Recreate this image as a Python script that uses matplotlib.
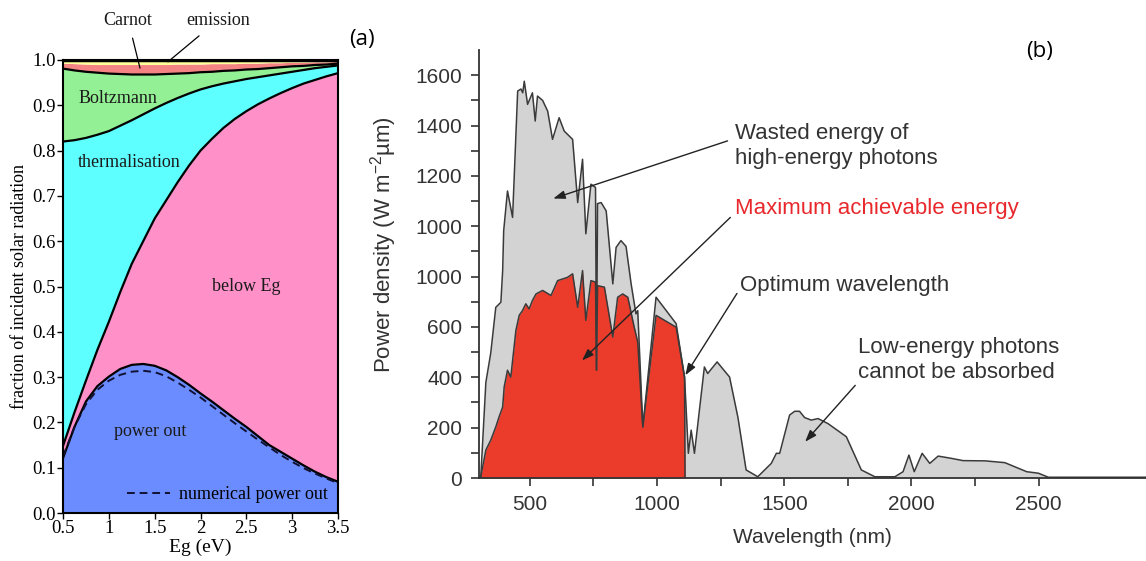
import numpy as np
import matplotlib
matplotlib.use("Agg")
import matplotlib.pyplot as plt

plt.rcParams['mathtext.fontset'] = 'custom'
plt.rcParams['mathtext.rm'] = 'Liberation Sans'
plt.rcParams['mathtext.it'] = 'Liberation Sans:italic'

# ---- (a) loss breakdown vs band gap ----
eg = [0.5, 0.625, 0.75, 0.875, 1.0, 1.125, 1.25, 1.375, 1.5, 1.625, 1.75, 1.875,
      2.0, 2.125, 2.25, 2.375, 2.5, 2.625, 2.75, 2.875, 3.0, 3.125, 3.25, 3.375, 3.5]
power_out = [0.121, 0.19, 0.246, 0.28, 0.301, 0.318, 0.327, 0.329, 0.325, 0.315, 0.30, 0.283,
             0.264, 0.246, 0.227, 0.208, 0.19, 0.17, 0.15, 0.135, 0.12, 0.105, 0.091, 0.079, 0.069]
numerical_out = [0.125, 0.19, 0.24, 0.272, 0.292, 0.305, 0.312, 0.314, 0.311, 0.302, 0.288, 0.272,
                 0.255, 0.236, 0.217, 0.198, 0.18, 0.162, 0.145, 0.128, 0.113, 0.099, 0.087, 0.076, 0.066]
below_top = [0.148, 0.222, 0.292, 0.36, 0.422, 0.488, 0.55, 0.60, 0.65, 0.69, 0.73, 0.767,
             0.80, 0.826, 0.85, 0.87, 0.887, 0.902, 0.915, 0.927, 0.938, 0.948, 0.956, 0.964, 0.971]
therm_top = [0.82, 0.823, 0.828, 0.835, 0.843, 0.855, 0.867, 0.88, 0.893, 0.905, 0.916, 0.926,
             0.935, 0.942, 0.948, 0.953, 0.958, 0.962, 0.966, 0.970, 0.974, 0.978, 0.982, 0.985, 0.988]
boltz_top = [0.981, 0.977, 0.974, 0.972, 0.970, 0.969, 0.968, 0.968, 0.968, 0.969, 0.970, 0.971,
             0.973, 0.974, 0.976, 0.977, 0.979, 0.980, 0.982, 0.984, 0.986, 0.987, 0.989, 0.990, 0.992]
carnot_top = [0.993, 0.992, 0.991, 0.990, 0.990, 0.990, 0.990, 0.990, 0.990, 0.990, 0.991, 0.991,
              0.991, 0.992, 0.992, 0.992, 0.993, 0.993, 0.994, 0.994, 0.995, 0.995, 0.996, 0.996, 0.997]

# ---- (b) solar spectrum ----
wl = [300, 307, 327, 346, 366, 386, 393, 397, 412, 432, 452, 465, 472, 478, 491, 510, 521, 530,
      550, 570, 589, 615, 635, 668, 688, 707, 720, 740, 758, 762, 766, 780, 800, 826, 839, 858,
      878, 898, 917, 924, 944, 996, 1075, 1108, 1123, 1134, 1147, 1186, 1199, 1236, 1285, 1318,
      1350, 1396, 1449, 1469, 1482, 1521, 1541, 1560, 1580, 1606, 1633, 1672, 1744, 1803, 1856,
      1935, 1967, 1990, 2011, 2042, 2072, 2105, 2157, 2203, 2290, 2367, 2453, 2499, 2538, 2922]
spectrum = [0, 5, 380, 495, 678, 698, 824, 982, 1140, 1035, 1537, 1545, 1530, 1576, 1484, 1530,
            1418, 1517, 1500, 1457, 1345, 1431, 1378, 1345, 1094, 1266, 970, 1167, 1154, 428,
            1090, 1094, 1061, 771, 916, 943, 920, 771, 652, 665, 203, 718, 613, 401, 98, 190, 98,
            441, 415, 461, 401, 240, 32, 5, 58, 98, 98, 250, 265, 265, 240, 230, 236, 216, 164,
            32, 5, 5, 25, 91, 25, 98, 58, 87, 78, 69, 68, 61, 25, 19, 3, 3]
wl_max = [300, 307, 327, 346, 366, 379, 393, 399, 412, 425, 445, 458, 471, 484, 497, 510, 524,
          550, 583, 609, 648, 668, 688, 707, 720, 740, 758, 762, 766, 793, 826, 845, 865, 885,
          910, 924, 944, 996, 1075, 1108, 1110]
max_energy = [0, 5, 111, 150, 203, 243, 282, 362, 428, 401, 586, 646, 665, 692, 672, 705, 731,
              745, 725, 784, 797, 811, 678, 824, 626, 784, 778, 428, 764, 758, 560, 718, 731, 718,
              600, 540, 203, 646, 599, 401, 0]
b_yticks = [0, 200, 400, 600, 800, 1000, 1200, 1400, 1600]
b_yticklabels = ['0', '200', '400', '600', '1000', '1000', '1200', '1400', '1600']

fig = plt.figure(figsize=(11.46, 5.61), dpi=100)

# panel (a)
serif = 'Liberation Serif'
ax = fig.add_axes([63 / 1146, 1 - 513 / 561, 275 / 1146, 453 / 561])
ax.fill_between(eg, 0, power_out, color='#6b8cff', lw=0)
ax.fill_between(eg, power_out, below_top, color='#ff90c8', lw=0)
ax.fill_between(eg, below_top, therm_top, color='#5dffff', lw=0)
ax.fill_between(eg, therm_top, boltz_top, color='#94f094', lw=0)
ax.fill_between(eg, boltz_top, carnot_top, color='#f48484', lw=0)
ax.fill_between(eg, carnot_top, 1.0, color='#ffff9a', lw=0)
for curve in (power_out, below_top, therm_top, boltz_top):
    ax.plot(eg, curve, color='black', lw=1.6)
ax.plot(eg, numerical_out, color='#111133', lw=1.4, ls=(0, (4, 2.5)),
        label='numerical power out')
ax.axhline(1.0, color='black', lw=2.5)
ax.set_xlim(0.5, 3.5)
ax.set_ylim(0, 1.0)
ax.set_xticks([0.5, 1, 1.5, 2, 2.5, 3, 3.5])
ax.set_xticklabels(['0.5', '1', '1.5', '2', '2.5', '3', '3.5'], fontfamily=serif, fontsize=13.5)
ax.set_yticks(np.arange(0, 1.01, 0.1))
ax.set_yticklabels(['%.1f' % v for v in np.arange(0, 1.01, 0.1)], fontfamily=serif, fontsize=13.5)
ax.tick_params(direction='out', length=4, width=1, pad=1)
for s in ax.spines.values():
    s.set_linewidth(1.5)
ax.set_xlabel('Eg (eV)', fontfamily=serif, fontsize=14, labelpad=1)
ax.set_ylabel('fraction of incident solar radiation', fontfamily=serif, fontsize=13, labelpad=3)

lab = dict(fontfamily=serif, fontsize=13, ha='center', va='center', color='#1a1a1a')
ax.text(1.10, 0.916, 'Boltzmann', **lab)
ax.text(1.22, 0.773, 'thermalisation', **lab)
ax.text(2.5, 0.499, 'below Eg', **lab)
ax.text(1.45, 0.179, 'power out', **lab)
ax.annotate('Carnot', xy=(1.34, 0.982), xytext=(1.21, 1.088), annotation_clip=False,
            arrowprops=dict(arrowstyle='-', color='black', lw=0.9, shrinkA=5, shrinkB=0), **lab)
ax.annotate('emission', xy=(1.645, 0.996), xytext=(2.19, 1.088), annotation_clip=False,
            arrowprops=dict(arrowstyle='-', color='black', lw=0.9, shrinkA=5, shrinkB=0), **lab)
leg = ax.legend(loc='lower right', frameon=False, handlelength=2.4, handletextpad=0.5,
                borderaxespad=0.15, prop={'family': serif, 'size': 13})

# panel (b)
sans = 'Liberation Sans'
grey = '#333333'
bx = fig.add_axes([479 / 1146, 1 - 478 / 561, 667 / 1146, 428 / 561])
bx.fill_between(wl, 0, spectrum, color='#d3d3d3', lw=0)
bx.plot(wl, spectrum, color='#3a3a3a', lw=1.1)
bx.fill_between(wl_max, 0, max_energy, color='#ea3b2b', lw=0)
bx.plot(wl_max, max_energy, color='#3a3a3a', lw=1.1)
bx.set_xlim(300, 2922)
bx.set_ylim(0, 1700)
bx.spines['top'].set_visible(False)
bx.spines['right'].set_visible(False)
for s in ('left', 'bottom'):
    bx.spines[s].set_color(grey)
    bx.spines[s].set_linewidth(1.3)
bx.set_xticks([500, 1000, 1500, 2000, 2500])
bx.set_xticks([750, 1250, 1750, 2250], minor=True)
bx.set_yticks(b_yticks)
bx.set_yticklabels(b_yticklabels)
bx.set_yticks(np.arange(100, 1700, 200), minor=True)
bx.tick_params(which='both', direction='out', length=6, width=1.2, color=grey,
               labelcolor=grey, labelsize=15, pad=6)
for t in bx.get_xticklabels() + bx.get_yticklabels():
    t.set_fontfamily(sans)
bx.set_xlabel('Wavelength (nm)', fontfamily=sans, fontsize=15, color=grey, labelpad=10)
bx.set_ylabel('Power density (W m$^{-2}$µm)', fontfamily=sans, fontsize=16, color=grey)
bx.yaxis.set_label_coords(-0.12, 0.545)

arrow = dict(arrowstyle='-|>,head_length=0.7,head_width=0.25', color='#222222', lw=1.0,
             shrinkA=0, shrinkB=0)
txt = dict(fontfamily=sans, fontsize=16, ha='left', va='center', linespacing=1.25)
bx.text(1307, 1319, 'Wasted energy of\nhigh-energy photons', color=grey, **txt)
bx.annotate('', xy=(592, 1110), xytext=(1277, 1339), arrowprops=arrow)
bx.text(1307, 1069, 'Maximum achievable energy', color='#e8282c', **txt)
bx.annotate('', xy=(705, 467), xytext=(1288, 1035), arrowprops=arrow)
bx.text(1327, 764, 'Optimum wavelength', color=grey, **txt)
bx.annotate('', xy=(1111, 408), xytext=(1314, 733), arrowprops=arrow)
bx.text(1791, 467, 'Low-energy photons\ncannot be absorbed', color=grey, **txt)
bx.annotate('', xy=(1582, 144), xytext=(1779, 368), arrowprops=arrow)

fig.text(362 / 1146, 1 - 40 / 561, '(a)', fontfamily='Open Sans', fontsize=16, ha='center', va='center')
fig.text(1040 / 1146, 1 - 52 / 561, '(b)', fontfamily='Open Sans', fontsize=16, ha='center', va='center')

fig.savefig('out.png', dpi=100)
